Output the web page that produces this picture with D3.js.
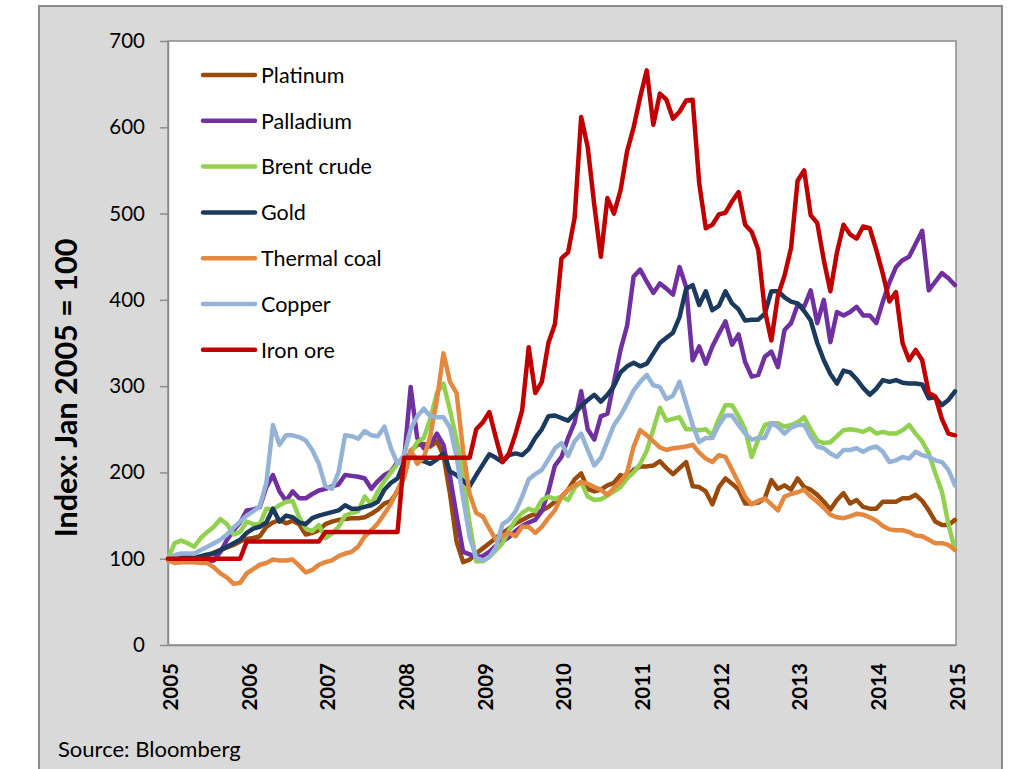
<!DOCTYPE html>
<html><head><meta charset="utf-8">
<script src="https://cdn.jsdelivr.net/npm/d3@7/dist/d3.min.js"></script>
<style>
html,body{margin:0;padding:0;background:#fff;}
svg{display:block;}
text{font-family:Lato,"Open Sans",sans-serif;fill:#000;}
</style></head><body>
<svg id="chart" width="1016" height="769"></svg>
<script>
const yearLabels = ["2005","2006","2007","2008","2009","2010","2011","2012","2013","2014","2015"];
const yTickValues = [0,100,200,300,400,500,600,700];
const seriesNames = ["Platinum","Palladium","Brent crude","Gold","Thermal coal","Copper","Iron ore"];
const seriesColors = ["#9a4a0a","#7030a0","#92d050","#1a3a5e","#e4873f","#95b3d7","#c00000"];

// Monthly index values, Jan 2005 .. Jan 2015 (Jan 2005 = 100)
const platinum = [
100,99,100,100,100,101,104,107,110,113,116,120,
123,124,126,137,142,145,141,144,140,128,130,133,
140,143,145,146,147,147,148,152,157,164,167,178,
195,225,232,233,230,236,220,175,120,96,99,106,
112,118,124,130,135,141,145,149,152,156,160,166,
172,180,192,199,181,178,180,185,188,197,194,203,
207,207,208,213,205,198,205,212,184,183,178,163,
183,193,187,180,164,164,165,170,191,181,185,180,
193,183,180,174,166,157,168,176,164,168,160,158,
158,166,166,166,170,170,174,167,156,143,139,139,
145];
const palladium = [
100,101,100,99,98,99,97,98,108,122,133,142,
156,157,160,183,197,178,167,178,170,170,175,179,
181,184,186,197,196,195,193,181,190,197,201,212,
215,299,240,228,232,245,232,195,150,108,105,102,
103,108,115,120,125,132,138,142,145,155,178,208,
218,240,258,294,250,238,265,268,305,342,370,427,
435,421,408,419,413,406,438,415,330,346,326,346,
361,375,348,360,328,311,313,334,340,322,365,373,
394,392,411,373,400,351,386,382,386,392,382,382,
373,398,420,438,446,450,465,480,411,421,431,425,
417];
const brent = [
100,118,121,118,114,124,131,137,146,140,128,131,
143,140,140,158,157,162,166,167,148,135,132,139,
124,129,137,150,153,155,172,163,178,190,200,210,
215,222,235,240,262,292,303,272,238,195,140,97,
97,102,110,118,133,145,153,158,155,168,172,169,
172,168,182,189,172,168,169,173,178,183,193,200,
210,225,250,275,260,262,264,250,250,249,250,243,
262,278,278,265,250,218,238,255,257,257,253,255,
258,264,250,237,234,235,242,249,250,249,247,251,
245,247,245,245,249,255,245,236,222,199,178,140,
110];
const gold = [
100,101,101,102,101,103,105,106,110,114,118,122,
130,135,137,142,158,143,150,148,142,140,147,150,
152,154,156,162,158,158,160,162,166,180,188,193,
212,222,215,213,210,215,222,201,197,190,184,197,
209,221,217,212,220,222,220,227,240,250,265,266,
263,260,268,277,284,290,282,290,300,316,323,327,
323,326,338,350,356,362,380,413,417,394,410,388,
393,410,396,389,376,377,377,384,410,410,403,398,
396,387,376,350,330,314,303,318,316,308,298,290,
297,307,305,307,304,303,303,302,286,287,278,284,
294];
const thermalCoal = [
98,95,96,96,96,95,95,90,83,78,71,72,
83,88,93,95,99,98,98,99,92,84,87,93,
96,98,103,106,108,114,126,133,141,152,164,180,
195,226,210,217,242,284,338,305,292,225,175,153,
149,135,122,126,130,126,137,137,130,137,147,156,
172,180,185,189,187,183,180,174,182,189,200,230,
249,243,236,229,226,228,229,230,232,223,216,212,
220,218,203,188,172,163,167,170,163,156,172,175,
177,180,172,166,159,151,148,147,149,152,151,148,
144,138,134,133,133,131,127,126,122,118,118,116,
110];
const copper = [
100,104,106,106,106,110,114,118,122,128,136,143,
150,155,161,188,255,232,243,243,241,237,226,210,
184,181,200,243,242,239,248,243,242,253,228,210,
220,250,265,274,265,264,264,252,218,170,125,101,
98,102,113,140,145,155,172,192,198,203,215,228,
234,219,236,245,226,208,217,236,255,266,280,295,
305,313,301,299,285,289,305,280,255,235,240,240,
255,266,266,255,245,238,240,240,257,253,245,252,
255,255,241,230,228,222,218,226,226,228,224,228,
230,224,212,214,218,216,224,220,218,214,212,203,
185];
const ironOre = [
100,100,100,100,100,100,100,100,100,100,100,100,
120,120,120,120,120,120,120,120,120,120,120,120,
131,131,131,131,131,131,131,131,131,131,131,131,
217,217,217,217,217,217,217,217,217,217,217,250,
258,270,240,212,222,245,272,345,292,305,350,372,
448,455,495,612,577,510,450,518,500,527,572,600,
635,666,603,639,632,610,618,631,632,535,483,487,
499,501,514,525,487,479,458,388,353,405,428,460,
538,550,498,489,446,410,455,487,476,471,485,483,
458,430,398,409,350,330,342,330,292,288,262,245,
243];

const seriesValues = [platinum, palladium, brent, gold, thermalCoal, copper, ironOre];

const svg = d3.select("#chart");
const L = 168, R = 955, T = 41, B = 645;

// outer panel
svg.append("rect").attr("x",39).attr("y",6).attr("width",963).attr("height",790)
  .attr("fill","#d9d9d9").attr("stroke","#8c8c8c").attr("stroke-width",2);

const x = d3.scaleLinear().domain([0,120]).range([L,R]);
const y = d3.scaleLinear().domain([0,700]).range([B,T]);

// plot area
svg.append("rect").attr("x",L).attr("y",T).attr("width",R+1-L).attr("height",B-T)
  .attr("fill","#fff").attr("stroke","#8c8c8c").attr("stroke-width",1.5);

// y axis
const yAxis = svg.append("g").attr("transform",`translate(${L},0)`)
  .call(d3.axisLeft(y).tickValues(yTickValues).tickSize(8).tickSizeOuter(0).tickPadding(15));
yAxis.select(".domain").attr("stroke","#8c8c8c").attr("stroke-width",1.5);
yAxis.selectAll(".tick line").attr("stroke","#8c8c8c").attr("stroke-width",1.5);
yAxis.selectAll(".tick text").attr("font-size",20.5).attr("font-family","Lato").attr("fill","#000");

// x axis
const xAxis = svg.append("g").attr("transform",`translate(0,${B})`)
  .call(d3.axisBottom(x).tickValues(yearLabels.map((d,i)=>i*12)).tickFormat((d,i)=>yearLabels[i]).tickSize(0).tickSizeOuter(0));
xAxis.select(".domain").attr("stroke","#8c8c8c").attr("stroke-width",1.5);
xAxis.selectAll(".tick text")
  .attr("font-size",20.5).attr("font-weight","bold").attr("font-family","Lato").attr("fill","#000")
  .attr("text-anchor","end").attr("transform","translate(2,18) rotate(-90)")
  .attr("x",0).attr("y",0).attr("dy","0.36em");

// y title
svg.append("text").attr("transform","translate(66,388) rotate(-90)")
  .attr("text-anchor","middle").attr("dy","0.36em")
  .attr("font-size",30.5).attr("font-weight","bold").text("Index: Jan 2005 = 100");

// source
svg.append("text").attr("x",58).attr("y",757).attr("font-size",22).text("Source: Bloomberg");

// lines
const line = d3.line().x((d,i)=>x(i)).y(d=>y(d));
svg.append("g").selectAll("path").data(seriesValues).join("path")
  .attr("d",line).attr("fill","none")
  .attr("stroke",(d,i)=>seriesColors[i]).attr("stroke-width",4.5)
  .attr("stroke-linejoin","round").attr("stroke-linecap","round");

// legend
const lg = svg.append("g").selectAll("g").data(seriesNames).join("g")
  .attr("transform",(d,i)=>`translate(0,${75 + i*45.8})`);
lg.append("line").attr("x1",203).attr("x2",255).attr("y1",0).attr("y2",0)
  .attr("stroke",(d,i)=>seriesColors[i]).attr("stroke-width",4.5).attr("stroke-linecap","round");
lg.append("text").attr("x",261).attr("dy","0.36em").attr("font-size",21.5).text(d=>d);
</script>
</body></html>
